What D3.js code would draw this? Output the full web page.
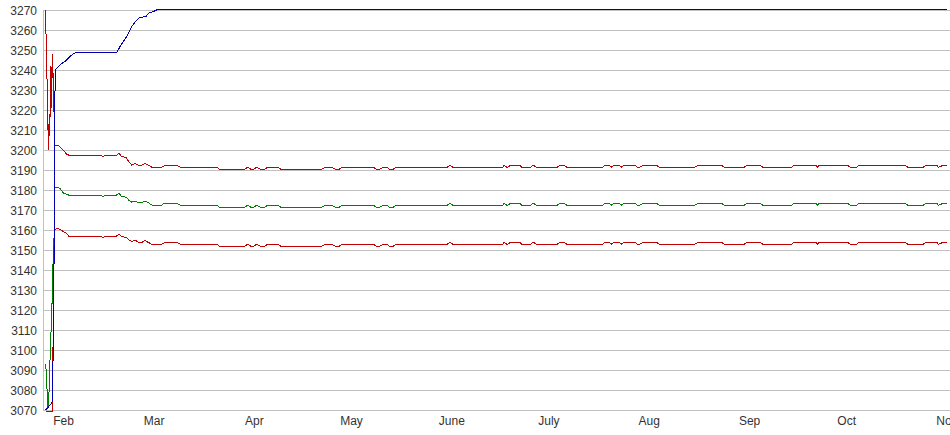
<!DOCTYPE html>
<html>
<head>
<meta charset="utf-8">
<script src="https://cdn.jsdelivr.net/npm/d3@7"></script>
<style>
  html, body { margin: 0; padding: 0; background: #fff; }
  svg { display: block; }
  text { font-family: "Liberation Sans", Arial, sans-serif; font-size: 12px; fill: #333; }
</style>
</head>
<body>
<svg id="chart" width="950" height="435"></svg>
<script>
// ---- tick labels ----
const xTickDays = [0, 28, 59, 89, 120, 150, 181, 212, 242, 273];
const xTickLabels = ["Feb", "Mar", "Apr", "May", "June", "July", "Aug", "Sep", "Oct", "Nov"];
const yTickValues = [3070, 3080, 3090, 3100, 3110, 3120, 3130, 3140, 3150, 3160, 3170,
                     3180, 3190, 3200, 3210, 3220, 3230, 3240, 3250, 3260, 3270];

// ---- series: days relative to Feb 1 ----
const blueDays = [-5.50, -3.55, -3.15, -2.84, -2.78, -2.53, -2.32, -1.08, 0.99, 2.53, 3.55, 16.44, 17.46,
                  19.53, 21.08, 22.62, 23.64, 25.50, 26.21, 27.75, 29.29, 273.0];
const blueVals = [3070, 3073.5, 3100, 3160, 3211.5, 3239.5, 3240.5, 3242.5, 3245, 3247.5, 3248.6, 3248.6, 3251.7,
                  3256.7, 3261.7, 3265, 3266.3, 3266.7, 3268.3, 3269.2, 3270.4, 3270.4];

const upperStartDays = [-5.62, -5.53, -5.25, -5.10, -4.91, -4.70, -4.39, -4.26, -4.02, -3.86, -3.65, -3.46, -3.15, -2.94, -2.72];
const upperStartVals = [3270, 3259, 3257, 3236, 3226, 3200, 3218, 3207, 3230, 3242, 3221, 3248, 3235, 3220, 3202.2];

const greenStartDays = [-5.50, -5.35, -5.19, -5.04, -4.88, -4.73, -4.57, -4.42, -4.26, -3.96, -3.65, -3.34, -3.09, -2.94, -2.84, -2.63];
const greenStartVals = [3093, 3089, 3082, 3080, 3071.7, 3072, 3076.7, 3080, 3090.5, 3104, 3118, 3134, 3156, 3152, 3172.5, 3181];

const lowerStartDays = [-5.50, -3.49, -3.43, -3.34, -3.24, -3.15, -3.06, -2.84, -2.63];
const lowerStartVals = [3069.5, 3069.5, 3074, 3085, 3101, 3116, 3152, 3146, 3160.3];

const bandDays = [-2.53, -1.70, -1.08, -0.06, 0.99, 1.55, 11.28, 12.11, 12.82, 13.35, 16.44, 17.15, 17.99, 19.31,
  20.33, 21.08, 22.10, 23.11, 24.17, 25.19, 26.21, 27.26, 30.35, 31.37, 34.98, 36.00, 47.34,
  48.15, 56.09, 56.92, 57.85, 58.87, 59.70, 60.72, 62.27, 63.10, 66.38,
  67.12, 79.79, 80.81, 82.88, 83.90, 85.23, 86.28, 95.74, 96.57, 97.81,
  98.83, 99.88, 100.68, 101.92, 102.75, 118.60, 119.44, 120.27, 135.72, 136.22,
  136.96, 137.36, 138.20, 141.07, 141.59, 144.38, 145.18, 146.01, 152.60, 153.43,
  154.67, 155.50, 166.62, 167.34, 168.67, 169.41, 170.12, 171.76, 172.50, 173.21,
  176.61, 177.32, 178.16, 179.17, 183.10, 184.12, 195.15, 196.17, 203.18, 204.20,
  210.38, 211.12, 215.02, 216.07, 225.03, 225.74, 232.54, 233.06, 233.56, 242.21,
  243.05, 245.12, 245.92, 260.04, 260.88, 265.70, 266.53, 269.84, 270.33, 271.17,
  271.88, 273.0];

const greenBandVals = [3181.5, 3181.3, 3180.8, 3178.5, 3177.8, 3177.5, 3177.5, 3176.7, 3177.2, 3177.5, 3177.5, 3178.4, 3176.7, 3176.4,
  3174.7, 3173.9, 3174.5, 3173.7, 3173.7, 3174.5, 3173.7, 3172.5, 3172.5, 3173.5, 3173.5, 3172.4, 3172.4,
  3171.4, 3171.4, 3172.4, 3171.4, 3171.4, 3172.4, 3171.4, 3171.4, 3172.4, 3172.4,
  3171.4, 3171.4, 3172.4, 3172.4, 3171.4, 3171.4, 3172.4, 3172.4, 3171.4, 3171.4,
  3172.4, 3172.4, 3171.4, 3171.4, 3172.4, 3172.4, 3173.4, 3172.4, 3172.4, 3173.4,
  3172.4, 3172.4, 3173.4, 3173.4, 3172.4, 3172.4, 3173.4, 3172.4, 3172.4, 3173.4,
  3173.4, 3172.4, 3172.4, 3173.4, 3173.4, 3172.4, 3173.4, 3173.4, 3172.4, 3173.4,
  3173.4, 3172.4, 3172.4, 3173.4, 3173.4, 3172.4, 3172.4, 3173.4, 3173.4, 3172.4,
  3172.4, 3173.4, 3173.4, 3172.4, 3172.4, 3173.4, 3173.4, 3172.4, 3173.4, 3173.4,
  3172.4, 3172.4, 3173.4, 3173.4, 3172.4, 3172.4, 3173.4, 3173.4, 3172.4, 3172.9,
  3173.4, 3173.4];

const upperBandVals = [3202.3, 3202.3, 3201.5, 3200.0, 3197.8, 3197.5, 3197.5, 3196.7, 3197.2, 3197.5, 3197.5, 3198.3, 3196.7, 3196.3,
  3193.8, 3192.5, 3193.3, 3192.5, 3192.5, 3193.3, 3192.5, 3191.4, 3191.4, 3192.4, 3192.4, 3191.4, 3191.4,
  3190.4, 3190.4, 3191.4, 3190.4, 3190.4, 3191.4, 3190.4, 3190.4, 3191.4, 3191.4,
  3190.4, 3190.4, 3191.4, 3191.4, 3190.4, 3190.4, 3191.4, 3191.4, 3190.4, 3190.4,
  3191.4, 3191.4, 3190.4, 3190.4, 3191.4, 3191.4, 3192.4, 3191.4, 3191.4, 3192.4,
  3191.4, 3191.4, 3192.4, 3192.4, 3191.4, 3191.4, 3192.4, 3191.4, 3191.4, 3192.4,
  3192.4, 3191.4, 3191.4, 3192.4, 3192.4, 3191.4, 3192.4, 3192.4, 3191.4, 3192.4,
  3192.4, 3191.4, 3191.4, 3192.4, 3192.4, 3191.4, 3191.4, 3192.4, 3192.4, 3191.4,
  3191.4, 3192.4, 3192.4, 3191.4, 3191.4, 3192.4, 3192.4, 3191.4, 3192.4, 3192.4,
  3191.4, 3191.4, 3192.4, 3192.4, 3191.4, 3191.4, 3192.4, 3192.4, 3191.4, 3191.9,
  3192.4, 3192.4];

const lowerBandVals = [3160.3, 3160.8, 3160.3, 3159.2, 3158.3, 3157.0, 3157.0, 3156.2, 3156.6, 3157.0, 3157.0, 3158.0, 3156.7, 3156.3,
  3155.0, 3154.2, 3155.0, 3153.8, 3153.8, 3154.7, 3153.8, 3152.9, 3152.9, 3153.9, 3153.9, 3152.9, 3152.9,
  3151.9, 3151.9, 3152.9, 3151.9, 3151.9, 3152.9, 3151.9, 3151.9, 3152.9, 3152.9,
  3151.9, 3151.9, 3152.9, 3152.9, 3151.9, 3151.9, 3152.9, 3152.9, 3151.9, 3151.9,
  3152.9, 3152.9, 3151.9, 3151.9, 3152.9, 3152.9, 3153.9, 3152.9, 3152.9, 3153.9,
  3152.9, 3152.9, 3153.9, 3153.9, 3152.9, 3152.9, 3153.9, 3152.9, 3152.9, 3153.9,
  3153.9, 3152.9, 3152.9, 3153.9, 3153.9, 3152.9, 3153.9, 3153.9, 3152.9, 3153.9,
  3153.9, 3152.9, 3152.9, 3153.9, 3153.9, 3152.9, 3152.9, 3153.9, 3153.9, 3152.9,
  3152.9, 3153.9, 3153.9, 3152.9, 3152.9, 3153.9, 3153.9, 3152.9, 3153.9, 3153.9,
  3152.9, 3152.9, 3153.9, 3153.9, 3152.9, 3152.9, 3153.9, 3153.9, 3152.9, 3153.4,
  3153.9, 3153.9];

// ---- layout ----
const W = 950, H = 435;
const plotLeft = 43, plotTop = 10, plotBottom = 410;

const svg = d3.select("#chart");
const x = d3.scaleLinear().domain([-6.33, 273.93]).range([plotLeft, W]);
const y = d3.scaleLinear().domain([3070, 3270]).range([plotBottom, plotTop]);

// gridlines
svg.append("g").selectAll("line").data(yTickValues).join("line")
  .attr("x1", plotLeft).attr("x2", W)
  .attr("y1", d => Math.round(y(d)) + 0.5).attr("y2", d => Math.round(y(d)) + 0.5)
  .attr("stroke", "#c0c0c0").attr("stroke-width", 1);

// left axis line
svg.append("line")
  .attr("x1", plotLeft + 0.5).attr("x2", plotLeft + 0.5)
  .attr("y1", plotTop).attr("y2", plotBottom + 1)
  .attr("stroke", "#c0c0c0");

// y labels
svg.append("g").selectAll("text").data(yTickValues).join("text")
  .attr("x", 37).attr("y", d => y(d) + 0.5)
  .attr("dy", "0.35em")
  .attr("text-anchor", "end")
  .text(d => d);

// x labels (the last one runs off the right edge, as in the original)
svg.append("g").selectAll("text").data(xTickDays).join("text")
  .attr("x", d => x(d)).attr("y", 425)
  .attr("text-anchor", "middle")
  .text((d, i) => xTickLabels[i]);

const zip = (ds, vs) => ds.map((d, i) => [d, vs[i]]);
const line = d3.line().x(d => x(d[0])).y(d => y(d[1]));

const series = [
  { pts: zip(greenStartDays.concat(bandDays), greenStartVals.concat(greenBandVals)), color: "#008000" },
  { pts: zip(lowerStartDays.concat(bandDays), lowerStartVals.concat(lowerBandVals)), color: "#c00000" },
  { pts: zip(upperStartDays.concat(bandDays), upperStartVals.concat(upperBandVals)), color: "#c00000" },
  { pts: zip(blueDays, blueVals), color: "#0000b0" }
];

svg.append("g").selectAll("path").data(series).join("path")
  .attr("d", d => line(d.pts))
  .attr("fill", "none")
  .attr("stroke", d => d.color)
  .attr("stroke-width", 1)
  .attr("shape-rendering", "crispEdges");
</script>
</body>
</html>
